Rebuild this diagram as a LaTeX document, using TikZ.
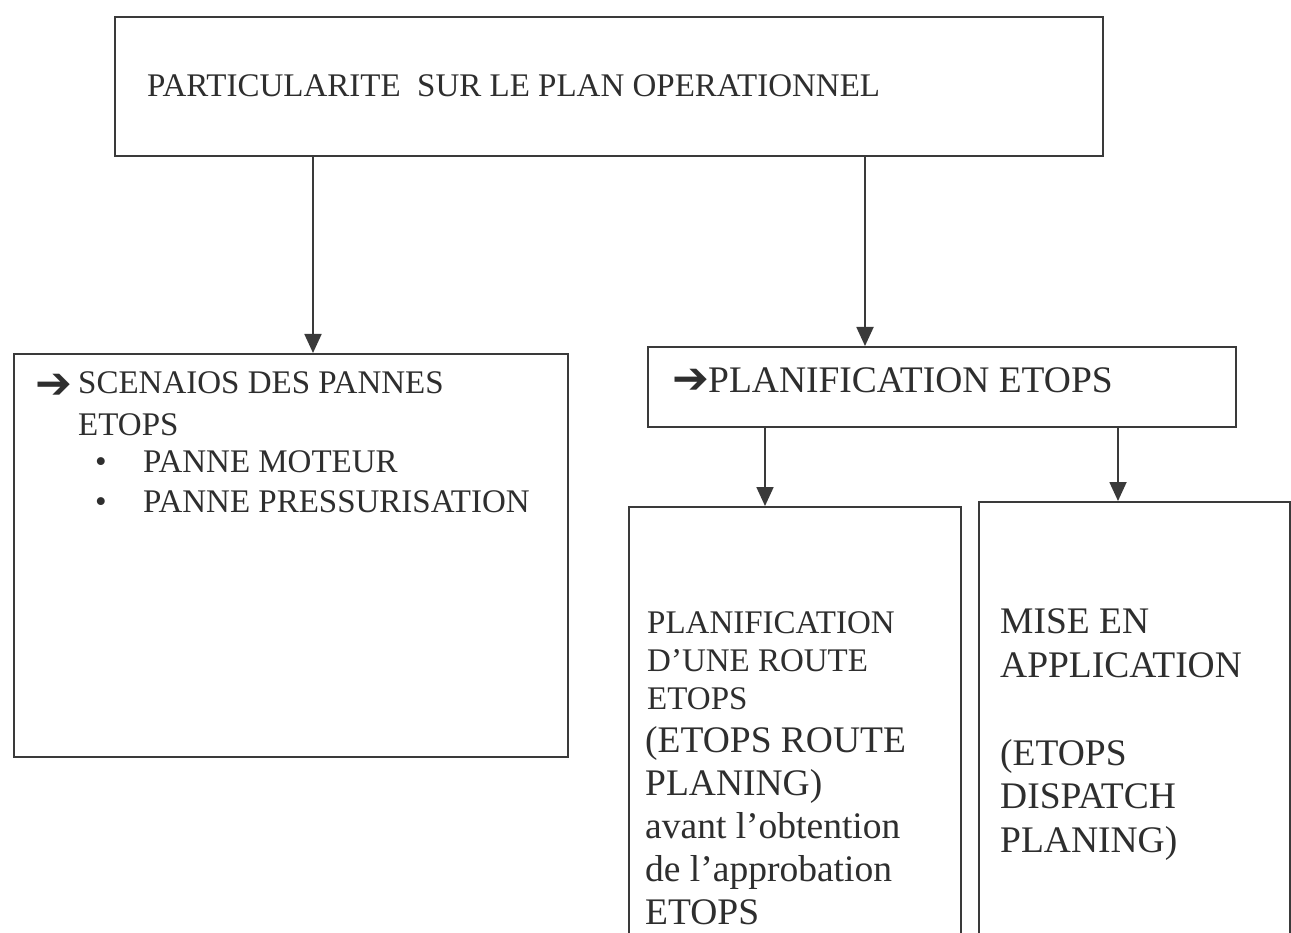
\documentclass[tikz,border=0pt]{standalone}
\usepackage{fontspec}
\setmainfont{Liberation Serif}
\newfontfamily\symfont{DejaVu Sans}
\usetikzlibrary{arrows.meta}
\definecolor{ink}{HTML}{2E2E2E}
\definecolor{rule}{HTML}{3A3A3A}
\begin{document}
\begin{tikzpicture}[x=1pt,y=-1pt,
  box/.style={draw=rule, line width=1.8pt, inner sep=0pt, anchor=north west},
  conn/.style={draw=rule, line width=1.8pt, -{Triangle[width=17pt,length=19pt]}},
  txt/.style={anchor=base west, inner sep=0pt, text=ink},
  fA/.style={font=\fontsize{33}{33}\selectfont},
  fB/.style={font=\fontsize{33}{33}\selectfont},
  fC/.style={font=\fontsize{37.5}{37.5}\selectfont},
  pointer/.style={anchor=west, inner sep=0pt, text=ink, font=\symfont\fontsize{44}{44}\selectfont},
]
\useasboundingbox[fill=white] (0,0) rectangle (1291,933);

% boxes
\node[box, minimum width=988pt, minimum height=139pt] (top) at (114,16) {};
\node[box, minimum width=554pt, minimum height=403pt] (left) at (13,353) {};
\node[box, minimum width=588pt, minimum height=80pt] (mid) at (647,346) {};
\node[box, minimum width=332pt, minimum height=440pt] (bl) at (628,506) {};
\node[box, minimum width=311pt, minimum height=445pt] (br) at (978,501) {};

% connectors
\coordinate (c1) at (313,0);
\coordinate (c2) at (865,0);
\coordinate (c3) at (765,0);
\coordinate (c4) at (1118,0);
\draw[conn] (c1 |- top.south) -- (c1 |- left.north);
\draw[conn] (c2 |- top.south) -- (c2 |- mid.north);
\draw[conn] (c3 |- mid.south) -- (c3 |- bl.north);
\draw[conn] (c4 |- mid.south) -- (c4 |- br.north);

% title
\node[txt, fA] (title) at (147,97) {PARTICULARITE~ SUR LE PLAN OPERATIONNEL};

% failure scenarios
\node[pointer] (lptr) at (35,386) {➔};
\node[txt, fB] (l1) at (78,393) {SCENAIOS DES PANNES};
\node[txt, fB] (l2) at (78,435) {ETOPS};
\node[txt, fB] (b1) at (95,472) {•};
\node[txt, fB] (l3) at (143,472) {PANNE MOTEUR};
\node[txt, fB] (b2) at (95,512) {•};
\node[txt, fB] (l4) at (143,512) {PANNE PRESSURISATION};

% planning header
\node[pointer] (mptr) at (672,381) {➔};
\node[txt, fC] (m1) at (708,392) {PLANIFICATION ETOPS};

% route planning
\foreach \t [count=\i] in {{PLANIFICATION}, {D’UNE ROUTE}, {ETOPS}}
  \node[txt, fB] (p\i) at (647,595+38*\i) {\t};
\foreach \t [count=\i] in {{(ETOPS ROUTE}, {PLANING)}, {avant l’obtention}, {de l’approbation}, {ETOPS}}
  \node[txt, fC] (q\i) at (645,709+43*\i) {\t};

% dispatch
\node[txt, fC] (r1) at (1000,633) {MISE EN};
\node[txt, fC] (r2) at (1000,677) {APPLICATION};
\node[txt, fC] (r3) at (1000,765) {(ETOPS};
\node[txt, fC] (r4) at (1000,808) {DISPATCH};
\node[txt, fC] (r5) at (1000,852) {PLANING)};
\end{tikzpicture}
\end{document}
